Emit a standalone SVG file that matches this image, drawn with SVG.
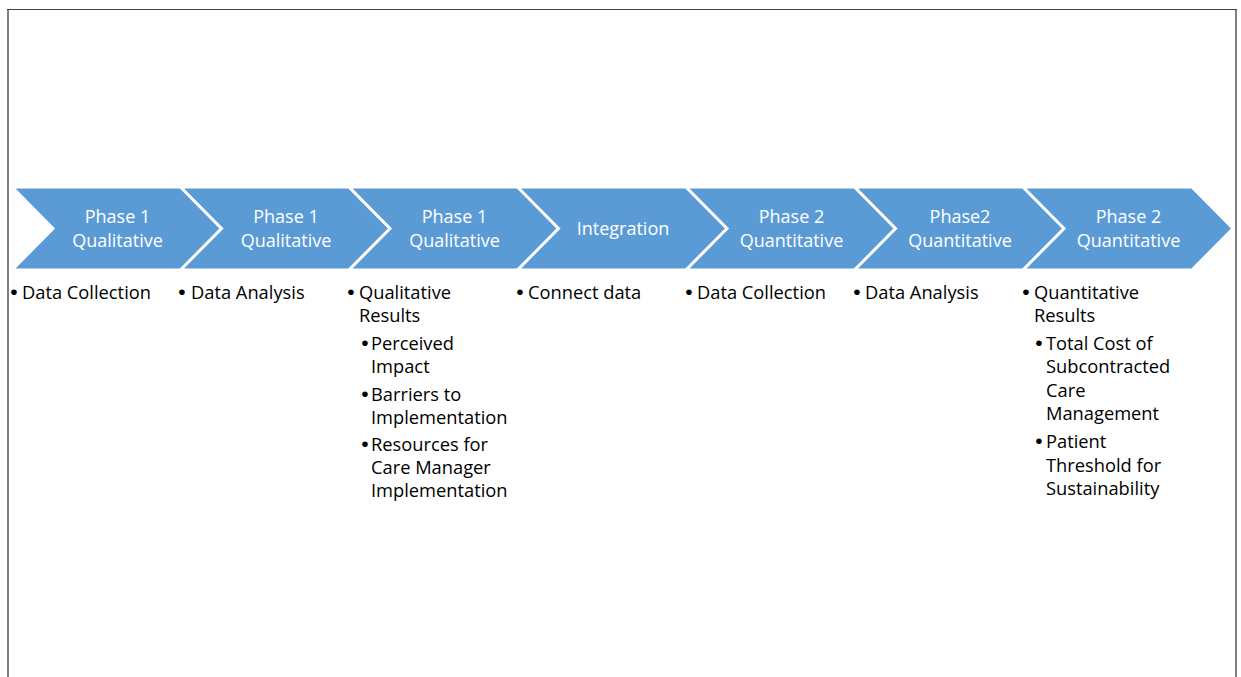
<svg xmlns="http://www.w3.org/2000/svg" width="1241" height="677" viewBox="0 0 1241 677">
<style>
.chev{fill:#5B9BD5;stroke:#FFFFFF;stroke-width:3;stroke-linejoin:miter}
.lbl{font-family:"Open Sans","Noto Sans",sans-serif;font-size:18px;fill:#FFFFFF;text-anchor:middle}
.txt{font-family:"Open Sans","Noto Sans",sans-serif;font-size:18.3px;fill:#000000}
.bul{font-family:"Liberation Sans",Arial,sans-serif;font-size:21px;fill:#000000;text-anchor:middle}
</style>
<rect width="1241" height="677" fill="#FFFFFF"/>
<g id="frame">
<line x1="8" y1="9" x2="8" y2="677" stroke="#7F7F7F" stroke-width="2"/>
<line x1="1236" y1="9" x2="1236" y2="677" stroke="#7F7F7F" stroke-width="2"/>
<line x1="7" y1="9.5" x2="1237" y2="9.5" stroke="#404040" stroke-width="1"/>
</g>
<g id="connectors"></g>
<g id="node1">
<path class="chev" d="M12,187 L181,187 L222,228.5 L181,270 L12,270 L53,228.5 Z"/>
<text class="lbl" x="117.5" y="223">Phase 1</text>
<text class="lbl" x="117.5" y="247">Qualitative</text>
<text class="bul" x="14" y="299">•</text><text class="txt" x="22" y="299">Data Collection</text>
</g>
<g id="node2">
<path class="chev" d="M180.5,187 L349.5,187 L390.5,228.5 L349.5,270 L180.5,270 L221.5,228.5 Z"/>
<text class="lbl" x="286" y="223">Phase 1</text>
<text class="lbl" x="286" y="247">Qualitative</text>
<text class="bul" x="182" y="299">•</text><text class="txt" x="191" y="299">Data Analysis</text>
</g>
<g id="node3">
<path class="chev" d="M349,187 L518,187 L559,228.5 L518,270 L349,270 L390,228.5 Z"/>
<text class="lbl" x="454.5" y="223">Phase 1</text>
<text class="lbl" x="454.5" y="247">Qualitative</text>
<text class="bul" x="351" y="299">•</text><text class="txt" x="359" y="299">Qualitative</text>
<text class="txt" x="359" y="322">Results</text>
<text class="bul" x="365" y="350">•</text><text class="txt" x="371" y="350">Perceived</text>
<text class="txt" x="371" y="373">Impact</text>
<text class="bul" x="365" y="401">•</text><text class="txt" x="371" y="401">Barriers to</text>
<text class="txt" x="371" y="424">Implementation</text>
<text class="bul" x="365" y="451">•</text><text class="txt" x="371" y="451">Resources for</text>
<text class="txt" x="371" y="474">Care Manager</text>
<text class="txt" x="371" y="497">Implementation</text>
</g>
<g id="node4">
<path class="chev" d="M517.5,187 L686.5,187 L727.5,228.5 L686.5,270 L517.5,270 L558.5,228.5 Z"/>
<text class="lbl" x="623" y="235">Integration</text>
<text class="bul" x="520" y="299">•</text><text class="txt" x="528" y="299">Connect data</text>
</g>
<g id="node5">
<path class="chev" d="M686,187 L855,187 L896,228.5 L855,270 L686,270 L727,228.5 Z"/>
<text class="lbl" x="791.5" y="223">Phase 2</text>
<text class="lbl" x="791.5" y="247">Quantitative</text>
<text class="bul" x="689" y="299">•</text><text class="txt" x="697" y="299">Data Collection</text>
</g>
<g id="node6">
<path class="chev" d="M854.5,187 L1023.5,187 L1064.5,228.5 L1023.5,270 L854.5,270 L895.5,228.5 Z"/>
<text class="lbl" x="960" y="223">Phase2</text>
<text class="lbl" x="960" y="247">Quantitative</text>
<text class="bul" x="857" y="299">•</text><text class="txt" x="865" y="299">Data Analysis</text>
</g>
<g id="node7">
<path class="chev" d="M1023,187 L1192,187 L1233,228.5 L1192,270 L1023,270 L1064,228.5 Z"/>
<text class="lbl" x="1128.5" y="223">Phase 2</text>
<text class="lbl" x="1128.5" y="247">Quantitative</text>
<text class="bul" x="1026" y="299">•</text><text class="txt" x="1034" y="299">Quantitative</text>
<text class="txt" x="1034" y="322">Results</text>
<text class="bul" x="1039" y="350">•</text><text class="txt" x="1046" y="350">Total Cost of</text>
<text class="txt" x="1046" y="373">Subcontracted</text>
<text class="txt" x="1046" y="397">Care</text>
<text class="txt" x="1046" y="420">Management</text>
<text class="bul" x="1039" y="448">•</text><text class="txt" x="1046" y="448">Patient</text>
<text class="txt" x="1046" y="472">Threshold for</text>
<text class="txt" x="1046" y="495">Sustainability</text>
</g>
</svg>
